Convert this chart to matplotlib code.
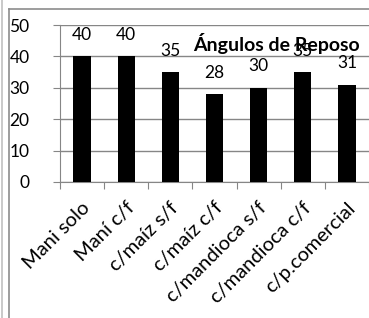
import numpy as np
import matplotlib
matplotlib.use('Agg')
import matplotlib.pyplot as plt
from matplotlib.lines import Line2D

categories = ['Mani solo', 'Maní c/f', 'c/maíz s/f', 'c/maíz c/f',
              'c/mandioca s/f', 'c/mandioca c/f', 'c/p.comercial']
values = [40, 40, 35, 28, 30, 35, 31]
yticks = [0, 10, 20, 30, 40, 50]

plt.rcParams['font.family'] = ['Lato', 'DejaVu Sans']
fs = 12.5
grid_col = '#868686'

fig = plt.figure(figsize=(3.69, 3.18), dpi=100)
ax = fig.add_axes([60/369, 1-182/318, 309/369, 157/318])

x = np.arange(len(categories))
ax.bar(x, values, width=0.39, color='black', zorder=3)
for xi, v in zip(x, values):
    ax.text(xi, v + 4.3, str(v), ha='center', va='bottom', fontsize=fs, zorder=4)

ax.set_xlim(-0.5, len(categories) - 0.5)
ax.set_ylim(0, 50)
ax.set_yticks(yticks)
ax.yaxis.grid(True, color=grid_col, linewidth=1)
ax.set_axisbelow(True)
ax.tick_params(axis='y', length=5, color=grid_col, labelsize=fs, pad=17)

# tick marks between categories
ax.set_xticks(np.arange(len(categories) + 1) - 0.5)
ax.set_xticklabels([])
ax.tick_params(axis='x', length=5, color=grid_col)
for xi, lab in zip(x, categories):
    ax.text(xi + 0.12, -7.4, lab, rotation=45, rotation_mode='anchor',
            ha='right', va='center', fontsize=14.5)

for s in ['top', 'right']:
    ax.spines[s].set_visible(False)
ax.spines['left'].set_color(grid_col)
ax.spines['bottom'].set_color(grid_col)

ax.text(0.70, 0.885, 'Ángulos de Reposo', transform=ax.transAxes,
        ha='center', va='center', fontsize=14, fontweight='bold', zorder=5)

# frame lines around the chart area
W, H = 369, 318
fig.add_artist(Line2D([1.5/W, 1.5/W], [0, 1], color='#c0c0c0', linewidth=1.2, transform=fig.transFigure))
fig.add_artist(Line2D([8.5/W, 8.5/W], [0, 1-8.5/H], color='#8c8c8c', linewidth=1.2, transform=fig.transFigure))
fig.add_artist(Line2D([8.5/W, 1], [1-8.5/H, 1-8.5/H], color='#8c8c8c', linewidth=1.2, transform=fig.transFigure))

fig.savefig('out.png', dpi=100)
